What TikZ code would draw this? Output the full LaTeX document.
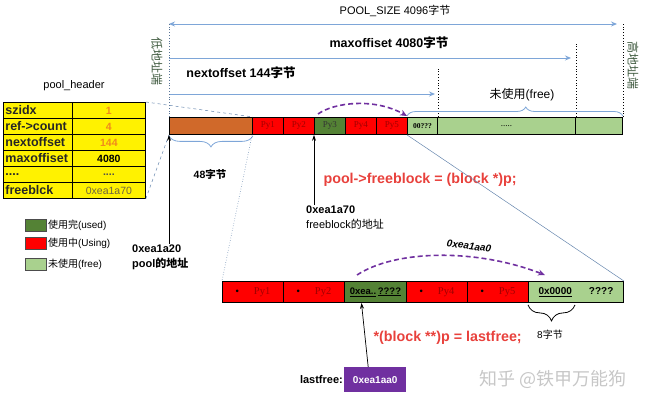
\documentclass[tikz,border=0pt]{standalone}
\usepackage{fontspec}
\setmainfont{Liberation Sans}
\newfontfamily\cjk{Noto Sans CJK SC}
\newfontfamily\pyserif{Liberation Serif}
\newcommand{\zh}[1]{{\cjk #1}}
\usetikzlibrary{arrows.meta,decorations.pathreplacing}

\definecolor{hdrorange}{HTML}{D0692A}
\definecolor{usedgreen}{HTML}{548235}
\definecolor{freegreen}{HTML}{A9D18E}
\definecolor{linkblue}{HTML}{7EA6D8}
\definecolor{ptrpurple}{HTML}{7030A0}
\definecolor{codered}{HTML}{E8413C}
\definecolor{pyred}{HTML}{A00000}
\definecolor{valorange}{HTML}{F08A1C}
\definecolor{addrgreen}{HTML}{3F5A3F}
\definecolor{fbvalue}{HTML}{6E6440}

\tikzset{
  barcell/.style={draw=black, line width=0.9pt, anchor=north west, inner sep=0pt,
    minimum height=17pt, font=\pyserif\fontsize{9}{10}\selectfont},
  lowcell/.style={barcell, minimum height=21pt, font=\fontsize{9.5}{11}\selectfont},
  tabkey/.style={draw=black, line width=0.8pt, fill=yellow, anchor=north west,
    inner sep=2pt, text width=65pt, minimum height=16pt, align=left,
    font=\bfseries\fontsize{12.5}{14}\selectfont, text=black!85},
  tabval/.style={draw=black, line width=0.8pt, fill=yellow, anchor=north west,
    inner sep=0pt, minimum width=73pt, minimum height=16pt,
    font=\bfseries\fontsize{10.5}{12}\selectfont},
  legbox/.style={draw=black!70, line width=0.6pt, minimum width=21pt,
    minimum height=12pt, inner sep=0pt},
  legtext/.style={anchor=west, inner sep=1pt, font=\fontsize{10}{12}\selectfont},
  sizeline/.style={draw=linkblue, line width=0.9pt},
  markline/.style={dotted, line width=0.8pt},
  sizelabel/.style={font=\bfseries\fontsize{12.5}{14}\selectfont},
  bluebrace/.style={draw=linkblue, line width=0.8pt, decorate},
  zoomline/.style={draw=linkblue!80!black, line width=0.5pt},
  ptrarrow/.style={draw=black, line width=0.7pt, -{Stealth[length=6pt,width=4pt]}},
  freeptr/.style={draw=ptrpurple, line width=1.6pt, dash pattern=on 5pt off 3pt,
    -{Stealth[length=7pt,width=6pt]}},
  codetext/.style={anchor=west, text=codered, font=\bfseries\fontsize{14.3}{16}\selectfont},
  addrtext/.style={anchor=north west, align=left, inner sep=1pt,
    font=\fontsize{11}{15}\selectfont}
}

\begin{document}
\begin{tikzpicture}[x=1pt, y=-1pt]
  \useasboundingbox (0,0) rectangle (650,406);

  % pool as a whole
  \node[barcell, fill=hdrorange, minimum width=83pt] (hdr) at (169,117) {};
  \node[barcell, fill=red, minimum width=31pt, text=pyred] (py1) at (252,117) {Py1};
  \node[barcell, fill=red, minimum width=31pt, text=pyred] (py2) at (283,117) {Py2};
  \node[barcell, fill=usedgreen, minimum width=31pt, text=black!80] (py3) at (314,117) {Py3};
  \node[barcell, fill=red, minimum width=31pt, text=pyred] (py4) at (345,117) {Py4};
  \node[barcell, fill=red, minimum width=31pt, text=pyred] (py5) at (376,117) {Py5};
  \node[barcell, fill=freegreen, minimum width=30pt, font=\pyserif\bfseries\fontsize{7.5}{9}\selectfont] (zeroq) at (407,117) {00???};
  \node[barcell, fill=freegreen, minimum width=138pt] (free) at (437,117) {.....};
  \node[barcell, fill=freegreen, minimum width=47pt] (spare) at (575,117) {};

  % size arrows
  \coordinate (lowend) at (169,24);
  \coordinate (highend) at (617,24);
  \coordinate (maxstart) at (169,58);
  \coordinate (maxend) at (571,58);
  \coordinate (nextstart) at (169,94);
  \coordinate (nextend) at (435,94);
  \draw[sizeline, {Stealth[length=6pt,width=5pt]}-{Stealth[length=6pt,width=5pt]}] (lowend) -- (highend);
  \draw[sizeline, -{Stealth[length=6pt,width=5pt]}] (maxstart) -- (maxend);
  \draw[sizeline, -{Stealth[length=6pt,width=5pt]}] (nextstart) -- (nextend);

  \draw[markline, draw=linkblue!70!black] (hdr.north west) -- ([yshift=2pt]lowend);
  \draw[markline] (spare.north east) -- +(0,-95);
  \draw[markline] (free.north east) -- +(0,-73);
  \draw[markline] (zeroq.north east) -- +(0,-48);

  \node[font=\fontsize{11}{13}\selectfont] (poolsize) at (395,11) {POOL\_SIZE 4096\zh{字节}};
  \node[sizelabel] (maxoff) at (389,43) {maxoffiset 4080\zh{字节}};
  \node[sizelabel] (nextoff) at (241,73) {nextoffset 144\zh{字节}};

  \node[rotate=-90, text=addrgreen, font=\cjk\fontsize{12}{14}\selectfont] (lowaddr) at (157,62) {低地址端};
  \node[rotate=-90, text=addrgreen, font=\cjk\fontsize{12}{14}\selectfont] (highaddr) at (633,66) {高地址端};

  % braces on the pool
  \draw[bluebrace, decoration={brace, amplitude=9pt, aspect=0.55}]
    ([yshift=1pt]zeroq.north west) -- ([yshift=1pt]spare.north east);
  \node[font=\fontsize{12}{14}\selectfont] (freelabel) at (522,95) {\zh{未使用}(free)};
  \draw[bluebrace, decoration={brace, amplitude=11pt}]
    ([yshift=-1pt]hdr.south east) -- ([yshift=-1pt]hdr.south west);
  \node[font=\bfseries\fontsize{10.5}{12}\selectfont] (hdrsize) at (210,174) {48\zh{字节}};

  \draw[freeptr] ([xshift=4pt,yshift=3pt]py3.north west)
    .. controls (335,102) and (375,98) .. ([yshift=1pt]zeroq.north west);

  % pool_header
  \node[font=\fontsize{11}{13}\selectfont] (hdrtitle) at (74,86) {pool\_header};
  \node[tabkey] (szk) at (3,102) {szidx};
  \node[tabval, text=valorange] (szv) at (72,102) {1};
  \node[tabkey] (refk) at (3,118) {ref->count};
  \node[tabval, text=valorange] (refv) at (72,118) {4};
  \node[tabkey] (nextk) at (3,134) {nextoffset};
  \node[tabval, text=valorange] (nextv) at (72,134) {144};
  \node[tabkey] (maxk) at (3,150) {maxoffiset};
  \node[tabval, text=black] (maxv) at (72,150) {4080};
  \node[tabkey] (dotk) at (3,166) {....};
  \node[tabval, text=black!70] (dotv) at (72,166) {....};
  \node[tabkey] (fbk) at (3,182) {freeblck};
  \node[tabval, text=fbvalue, font=\fontsize{10.5}{12}\selectfont] (fbv) at (72,182) {0xea1a70};

  \draw[zoomline, dashed] (szv.north east) -- (hdr.north east);
  \draw[zoomline, dashed] (fbv.south east) -- (hdr.south west);

  % legend
  \node[legbox, fill=usedgreen] (legused) at (36,225) {};
  \node[legtext] (legusedtxt) at (legused.east) {\zh{使用完}(used)};
  \node[legbox, fill=red] (legusing) at (36,243) {};
  \node[legtext] (legusingtxt) at (legusing.east) {\zh{使用中}(Using)};
  \node[legbox, fill=freegreen] (legfree) at (36,264) {};
  \node[legtext] (legfreetxt) at (legfree.east) {\zh{未使用}(free)};

  % addresses
  \node[addrtext, font=\bfseries\fontsize{11}{15}\selectfont] (pooladdr) at (131,244) {0xea1a20\\pool\zh{的地址}};
  \draw[ptrarrow] (pooladdr.north -| hdr.south west) -- (hdr.south west);
  \node[addrtext] (fbaddr) at (305,205) {\textbf{0xea1a70}\\freeblock\zh{的地址}};
  \draw[ptrarrow] (fbaddr.north -| py3.south west) -- (py3.south west);

  \node[codetext] (setfree) at (320,180) {pool->freeblock = (block *)p;};

  % blocks of the pool, one by one
  \node[lowcell, fill=red, minimum width=61pt] (lpy1) at (222,281) {\textbullet\hspace{15pt}{\pyserif\fontsize{10.5}{12}\selectfont\color{pyred}Py1}};
  \node[lowcell, fill=red, minimum width=61pt] (lpy2) at (283,281) {\textbullet\hspace{15pt}{\pyserif\fontsize{10.5}{12}\selectfont\color{pyred}Py2}};
  \node[lowcell, fill=usedgreen, minimum width=62pt, font=\bfseries\fontsize{9.5}{11}\selectfont] (lused) at (344,281) {\underline{0xea..}\,\underline{????}};
  \node[lowcell, fill=red, minimum width=61pt] (lpy4) at (406,281) {\textbullet\hspace{15pt}{\pyserif\fontsize{10.5}{12}\selectfont\color{pyred}Py4}};
  \node[lowcell, fill=red, minimum width=61pt] (lpy5) at (467,281) {\textbullet\hspace{15pt}{\pyserif\fontsize{10.5}{12}\selectfont\color{pyred}Py5}};
  \node[lowcell, fill=freegreen, minimum width=95pt, font=\bfseries\fontsize{10}{11}\selectfont] (lfree) at (528,281) {\underline{0x0000}\hspace{17pt}????};

  \draw[zoomline, dotted, line width=0.7pt] (py1.south west) -- (lpy1.north west);
  \draw[zoomline] (zeroq.south west) -- (lfree.north east);

  \draw[freeptr] ([xshift=13pt,yshift=6pt]lused.north west)
    .. controls (395,250) and (475,248) .. ([xshift=17pt,yshift=6pt]lfree.north west);
  \node[rotate=-8, font=\bfseries\itshape\fontsize{10}{12}\selectfont] (nextaddr) at (469,246) {0xea1aa0};

  \draw[draw=black, line width=0.8pt, decorate, decoration={brace, amplitude=16pt}]
    ([xshift=47pt,yshift=-2pt]lfree.south west) -- ([yshift=-2pt]lfree.south west);
  \node[font=\fontsize{10}{12}\selectfont] (blksize) at (550,335) {8\zh{字节}};

  \node[codetext] (setlast) at (370,338) {*(block **)p = lastfree;};

  % lastfree
  \node[fill=ptrpurple, text=white, minimum width=62pt, minimum height=25pt, inner sep=0pt,
    anchor=north west, font=\bfseries\fontsize{10}{12}\selectfont] (lastbox) at (344,367) {0xea1aa0};
  \node[anchor=east, inner sep=1pt, font=\bfseries\fontsize{11}{13}\selectfont] (lastname) at (lastbox.west) {lastfree:};
  \draw[ptrarrow] ([xshift=-7pt]lastbox.north) -- ([xshift=-14pt]lused.south);

  \node[text=black!22, font=\cjk\fontsize{18}{20}\selectfont] (mark) at (553,379) {知乎 @铁甲万能狗};
\end{tikzpicture}
\end{document}
